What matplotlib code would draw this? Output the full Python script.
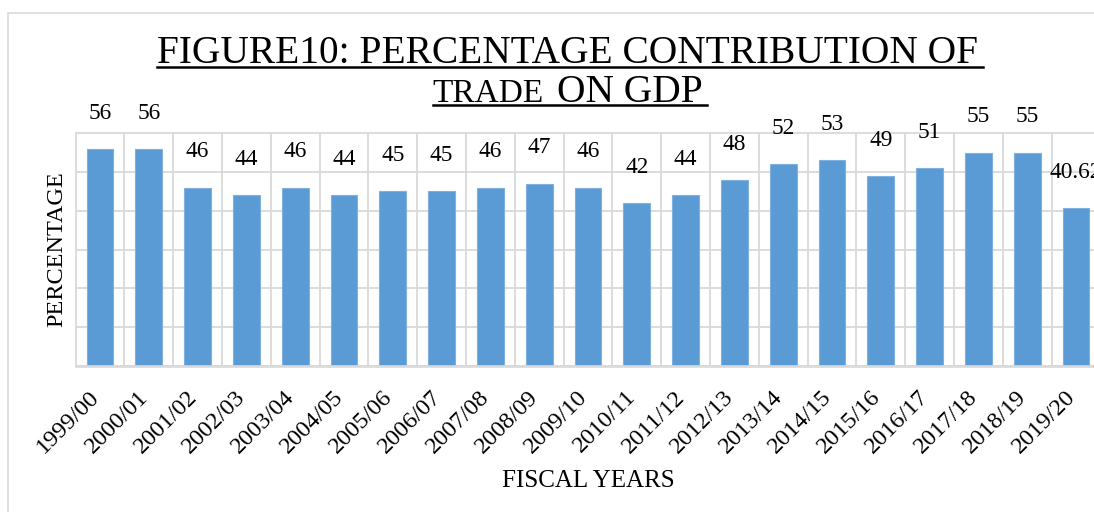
import numpy as np
import matplotlib
matplotlib.use("Agg")
import matplotlib.pyplot as plt
from matplotlib.lines import Line2D
from matplotlib.patches import Rectangle

fiscal_years = [
    "1999/00", "2000/01", "2001/02", "2002/03", "2003/04", "2004/05", "2005/06",
    "2006/07", "2007/08", "2008/09", "2009/10", "2010/11", "2011/12", "2012/13",
    "2013/14", "2014/15", "2015/16", "2016/17", "2017/18", "2018/19", "2019/20",
]
trade_share = [56, 56, 46, 44, 46, 44, 45, 45, 46, 47, 46, 42, 44, 48, 52, 53, 49, 51, 55, 55, 40.62]

W, H, DPI = 1094, 512, 100
GRID = "#D9D9D9"
BAR = "#5B9BD5"

plt.rcParams["font.family"] = ["Liberation Serif", "DejaVu Serif"]

fig = plt.figure(figsize=(W / DPI, H / DPI), dpi=DPI)
renderer = fig.canvas.get_renderer()


def fx(px):
    return px / W


def fy(px):
    return 1 - px / H


# chart area frame (runs off the right and bottom edges)
fig.add_artist(Rectangle((fx(7.5), -0.1), 1.2, fy(12.5) + 0.1, transform=fig.transFigure,
                         fill=False, edgecolor=GRID, linewidth=1.2))

# plot area is wider than the canvas, last column gets cut off
ax = fig.add_axes([fx(75.6), fy(366), (1100.4 - 75.6) / W, 232.8 / H])

x = np.arange(len(fiscal_years))
bars = ax.bar(x, trade_share, width=0.55, color=BAR, edgecolor="#7FB0DE", linewidth=0.8, zorder=2)

for xi, v in zip(x, trade_share):
    ax.annotate(f"{v:g}", (xi, v), xytext=(0, 25.7), textcoords="offset points",
                ha="center", va="center", fontsize=16.8, color="black")

ax.set_xlim(-0.5, len(fiscal_years) - 0.5)
ax.set_ylim(0, 60)
ax.set_yticks(np.arange(0, 61, 10))
ax.set_xticks(x, fiscal_years, rotation=45, ha="right", va="baseline",
              rotation_mode="anchor", fontsize=17.5)
ax.set_xticks(np.arange(-0.5, len(fiscal_years)), minor=True)
ax.tick_params(axis="x", which="both", length=0, pad=23)
ax.tick_params(axis="y", which="both", length=0, labelleft=False)

ax.set_axisbelow(True)
ax.grid(axis="y", which="major", color=GRID, linewidth=1.3)
ax.grid(axis="x", which="minor", color=GRID, linewidth=1.3)
ax.grid(axis="x", which="major", visible=False)
for tick in ax.yaxis.get_major_ticks() + ax.xaxis.get_minor_ticks():
    tick.gridline.set_clip_on(False)

for side in ["top", "left", "right"]:
    ax.spines[side].set_visible(False)
ax.spines["bottom"].set_color(GRID)
ax.spines["bottom"].set_linewidth(1.9)

ax.set_ylabel("PERCENTAGE", fontsize=17.5)
ax.yaxis.set_label_coords(-0.0079, 0.5)
ax.set_xlabel("FISCAL YEARS", fontsize=18)
ax.xaxis.set_label_coords(0.5, -0.447)

# underlined two-line title, "TRADE" set smaller than the rest
cx = 567.5
t1 = fig.text(fx(cx), fy(63), "FIGURE10: PERCENTAGE CONTRIBUTION OF",
              fontsize=28.4, ha="center", va="baseline")
ta = fig.text(0, fy(102.5), "TRADE", fontsize=24, ha="left", va="baseline")
tb = fig.text(0, fy(102.5), "ON GDP", fontsize=28.4, ha="left", va="baseline")
wa = ta.get_window_extent(renderer).width
wb = tb.get_window_extent(renderer).width
gap = 13
start = cx - (wa + gap + wb) / 2
ta.set_x(fx(start))
tb.set_x(fx(start + wa + gap))

b1 = t1.get_window_extent(renderer)
fig.add_artist(Line2D([b1.x0 / W, (b1.x1 + 5) / W], [fy(66.8)] * 2, color="black",
                      linewidth=1.8, transform=fig.transFigure))
fig.add_artist(Line2D([fx(start), fx(start + wa + gap + wb + 4)], [fy(104.5)] * 2,
                      color="black", linewidth=1.8, transform=fig.transFigure))

fig.savefig("out.png", dpi=DPI)
